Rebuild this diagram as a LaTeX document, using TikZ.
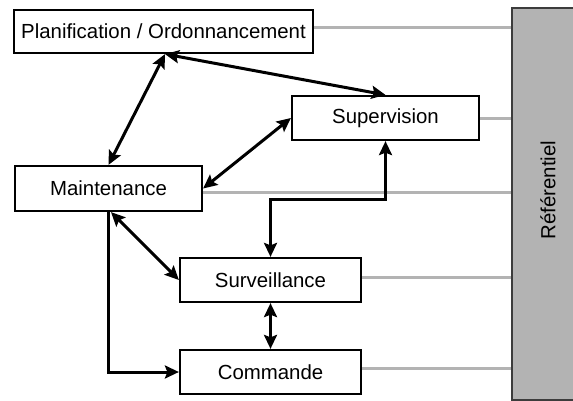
\documentclass[tikz,border=0pt]{standalone}
\usepackage{fontspec}
\setmainfont{Liberation Sans}
\usetikzlibrary{arrows.meta}
\definecolor{refgrey}{HTML}{B3B3B3}
\definecolor{refedge}{HTML}{3C3C3C}
\begin{document}
\begin{tikzpicture}[x=1pt,y=-1pt,
  box/.style={draw=black, line width=2.2pt, fill=white, inner sep=0pt,
    font=\fontsize{20.4}{24}\selectfont},
  refbar/.style={draw=refedge, line width=1.8pt, fill=refgrey, inner sep=0pt},
  tip/.tip={Stealth[length=14pt,width=13pt,inset=2.5pt]},
  link/.style={line width=3pt, tip-tip},
  oneway/.style={line width=3pt, -tip},
  refline/.style={draw=refgrey, line width=3pt},
]
\useasboundingbox (0,0) rectangle (573,401);

% shared repository bar
\node[refbar, minimum width=66, minimum height=392] (ref) at (545,204) {};
\node[rotate=90, font=\fontsize{20.4}{24}\selectfont] (reflabel) at (548,190) {Référentiel};

% functional blocks
\node[box, minimum width=299, minimum height=43] (plan) at (163.5,31.5) {Planification / Ordonnancement};
\node[box, minimum width=187, minimum height=44] (sup)  at (385.5,118) {Supervision};
\node[box, minimum width=187, minimum height=45] (main) at (108.5,188.5) {Maintenance};
\node[box, minimum width=181, minimum height=44] (surv) at (270.5,280) {Surveillance};
\node[box, minimum width=181, minimum height=44] (cmd)  at (270.5,372) {Commande};

% links to the repository
\draw[refline] ([yshift=3.5pt]plan.east) -- ([yshift=3.5pt]plan.east -| ref.west);
\draw[refline] ([yshift=-1pt]sup.east) -- ([yshift=-1pt]sup.east -| ref.west);
\draw[refline] ([yshift=-3.5pt]main.east) -- ([yshift=-3.5pt]main.east -| ref.west);
\draw[refline] ([yshift=3pt]surv.east) -- ([yshift=3pt]surv.east -| ref.west);
\draw[refline] ([yshift=4pt]cmd.east) -- ([yshift=4pt]cmd.east -| ref.west);

% exchanges between blocks
\draw[link] ([xshift=1.5pt]plan.south) -- (main.north);
\draw[link] ([xshift=1.5pt]plan.south) -- (sup.north);
\draw[link] (main.east) -- (sup.west);
\coordinate (bend) at (0,199);
\draw[link] (surv.north) -- (surv.north |- bend) -| (sup.south);
\draw[link] (surv.south) -- (cmd.north);
\draw[link] ([xshift=2.5pt]main.south) -- (surv.west);
\draw[oneway] (main.south) |- (cmd.west);
\end{tikzpicture}
\end{document}
